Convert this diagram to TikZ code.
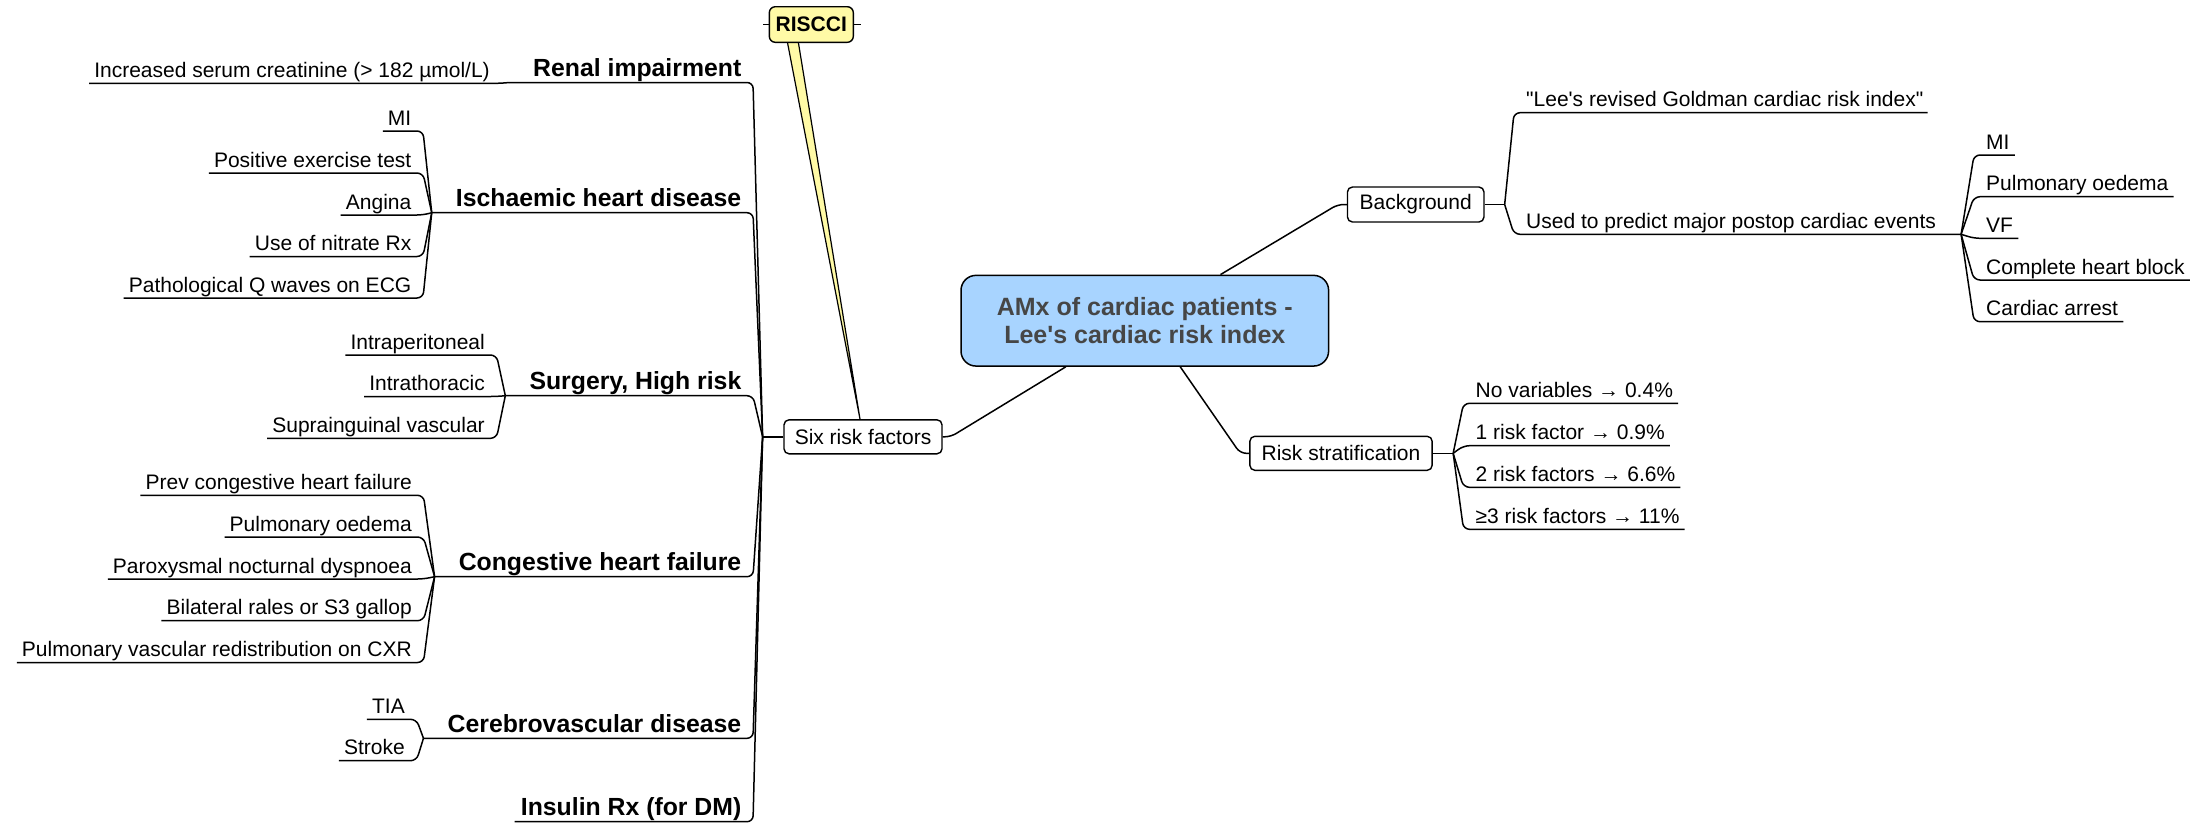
\documentclass[tikz,border=0pt]{standalone}
\usepackage{fontspec}
\setmainfont{Liberation Sans}[Ligatures=TeXOff]
\usetikzlibrary{calc}
\definecolor{centralfill}{HTML}{A8D4FF}
\definecolor{notefill}{HTML}{FFFAA6}
\definecolor{centraltext}{HTML}{464646}
\pgfdeclarelayer{back}
\pgfsetlayers{back,main}
\begin{document}
\begin{tikzpicture}[x=1pt,y=-1pt,
  leaf/.style={font=\fontsize{21}{25}\selectfont, inner sep=0pt},
  topic/.style={font=\bfseries\fontsize{24.8}{29}\selectfont, inner sep=0pt},
  boxed/.style={draw, line width=1.4pt, rounded corners=5pt, fill=white,
    font=\fontsize{21}{25}\selectfont, inner sep=0pt, minimum height=34pt},
  link/.style={line width=1.5pt, rounded corners=6pt, line join=round},
]
\path[use as bounding box] (0,0) rectangle (2197,823);

% central topic
\node[draw, line width=1.5pt, rounded corners=15pt, fill=centralfill,
  minimum width=367.6pt, minimum height=90.7pt, align=center, text=centraltext,
  font=\bfseries\fontsize{25}{28.3}\selectfont, inner sep=0pt]
  (c) at (1144.8,320.7) {AMx of cardiac patients -\\Lee's cardiac risk index};

% main branches
\node[boxed, minimum width=158pt] (six) at (863,436.8) {Six risk factors};
\node[boxed, minimum width=136.5pt, minimum height=35pt] (bg) at (1415.7,204.5) {Background};
\node[boxed, minimum width=182.3pt] (rs) at (1341,453.3) {Risk stratification};

% floating note with its callout
\node[draw, line width=1.4pt, rounded corners=6pt, fill=notefill,
  minimum width=84pt, minimum height=35.6pt, inner sep=0pt,
  font=\bfseries\fontsize{21}{25}\selectfont] (ris) at (811.3,24.5) {RISCCI};
\begin{pgfonlayer}{back}
  \coordinate (tailA) at ($(ris.south)+(-24.5,-4)$);
  \coordinate (tailB) at ($(ris.south)+(-13.5,-4)$);
  \coordinate (tip) at ($(six.north)+(-3,0)$);
  \fill[notefill] (tailA) -- (tip) -- (tailB) -- cycle;
  \draw[line width=1.2pt, line join=round] (tailA) -- (tip) -- (tailB);
\end{pgfonlayer}
\draw[line width=1.4pt] (ris.west) -- ++(-6,0);
\draw[line width=1.4pt] (ris.east) -- ++(7,0);

% central connectors
\draw[link] ($(c.south west)!0.286!(c.south east)$) -- ($(six.east)+(8,0)$) -- (six.east);
\draw[link] ($(c.north west)!0.705!(c.north east)$) -- ($(bg.west)+(-9,0)$) -- (bg.west);
\draw[link] ($(c.south west)!0.596!(c.south east)$) -- ($(rs.west)+(-9,0)$) -- (rs.west);

% junctions of the main branches
\coordinate (J0) at ($(six.west)+(-20.7,0)$);
\coordinate (Jbg) at ($(bg.east)+(20,0)$);
\coordinate (Jrs) at ($(rs.east)+(20.3,0)$);
\draw[link] (six.west) -- (J0);
\draw[link] (bg.east) -- (Jbg);
\draw[link] (rs.east) -- (Jrs);

% six risk factors
\node[topic, anchor=base east] (ren) at (741.5,76.5) {Renal impairment};
\node[topic, anchor=base east] (ihd) at (741.5,206.7) {Ischaemic heart disease};
\node[topic, anchor=base east] (sur) at (741.5,389.7) {Surgery, High risk};
\node[topic, anchor=base east] (chf) at (741.5,570.7) {Congestive heart failure};
\node[topic, anchor=base east] (cvd) at (741.5,732.3) {Cerebrovascular disease};
\node[topic, anchor=base east] (ins) at (741.5,815.7) {Insulin Rx (for DM)};

\foreach \p in {ren,ihd,sur,chf,cvd}{
  \coordinate (J\p) at ($(\p.base west)+(-24,6)$);
  \draw[link] (J0) -- ($(\p.base east)+(11.5,6)$) -- (J\p);
}
\draw[link] (J0) -- ($(ins.base east)+(11.5,6)$) -- ($(ins.base west)+(-6,6)$);

% details of each risk factor
\node[leaf, anchor=base east] (ren1) at (490,77.3) {Increased serum creatinine (> 182 µmol/L)};

\node[leaf, anchor=base east] (ihd1) at (411.5,125) {MI};
\node[leaf, anchor=base east] (ihd2) at (411.5,167) {Positive exercise test};
\node[leaf, anchor=base east] (ihd3) at (411.5,209) {Angina};
\node[leaf, anchor=base east] (ihd4) at (411.5,250.5) {Use of nitrate Rx};
\node[leaf, anchor=base east] (ihd5) at (411.5,292) {Pathological Q waves on ECG};

\node[leaf, anchor=base east] (sur1) at (485,349) {Intraperitoneal};
\node[leaf, anchor=base east] (sur2) at (485,390.5) {Intrathoracic};
\node[leaf, anchor=base east] (sur3) at (485,432.3) {Suprainguinal vascular};

\node[leaf, anchor=base east] (chf1) at (412,489.3) {Prev congestive heart failure};
\node[leaf, anchor=base east] (chf2) at (412,531) {Pulmonary oedema};
\node[leaf, anchor=base east] (chf3) at (412,573) {Paroxysmal nocturnal dyspnoea};
\node[leaf, anchor=base east] (chf4) at (412,614.7) {Bilateral rales or S3 gallop};
\node[leaf, anchor=base east] (chf5) at (412,656.5) {Pulmonary vascular redistribution on CXR};

\node[leaf, anchor=base east] (cvd1) at (405,713.3) {TIA};
\node[leaf, anchor=base east] (cvd2) at (405,754.7) {Stroke};

\foreach \n/\J in {ren1/Jren, ihd1/Jihd, ihd2/Jihd, ihd3/Jihd, ihd4/Jihd, ihd5/Jihd,
    sur1/Jsur, sur2/Jsur, sur3/Jsur, chf1/Jchf, chf2/Jchf, chf3/Jchf, chf4/Jchf, chf5/Jchf,
    cvd1/Jcvd, cvd2/Jcvd}{
  \draw[link] ($(\n.base west)+(-5,6)$) -- ($(\n.base east)+(11.5,6)$) -- (\J);
}

% background
\node[leaf, anchor=base west] (bg1) at (1526,106.7) {"Lee's revised Goldman cardiac risk index"};
\node[leaf, anchor=base west] (used) at (1526,228.3) {Used to predict major postop cardiac events};
\draw[link] (Jbg) -- ($(bg1.base west)+(-12,6)$) -- ($(bg1.base east)+(4,6)$);
\coordinate (Jused) at ($(used.base east)+(25,6)$);
\draw[link] (Jbg) -- ($(used.base west)+(-12,6)$) -- (Jused);

\node[leaf, anchor=base west] (ev1) at (1986,149) {MI};
\node[leaf, anchor=base west] (ev2) at (1986,190.7) {Pulmonary oedema};
\node[leaf, anchor=base west] (ev3) at (1986,232.3) {VF};
\node[leaf, anchor=base west] (ev4) at (1986,274) {Complete heart block};
\node[leaf, anchor=base west] (ev5) at (1986,315.7) {Cardiac arrest};

% risk stratification
\node[leaf, anchor=base west] (rs1) at (1475.5,397.3) {No variables → 0.4\%};
\node[leaf, anchor=base west] (rs2) at (1475.5,439.7) {1 risk factor → 0.9\%};
\node[leaf, anchor=base west] (rs3) at (1475.5,481.3) {2 risk factors → 6.6\%};
\node[leaf, anchor=base west] (rs4) at (1475.5,523.3) {≥3 risk factors → 11\%};

\foreach \n/\J in {ev1/Jused, ev2/Jused, ev3/Jused, ev4/Jused, ev5/Jused,
    rs1/Jrs, rs2/Jrs, rs3/Jrs, rs4/Jrs}{
  \draw[link] (\J) -- ($(\n.base west)+(-12,6)$) -- ($(\n.base east)+(5,6)$);
}
\end{tikzpicture}
\end{document}
